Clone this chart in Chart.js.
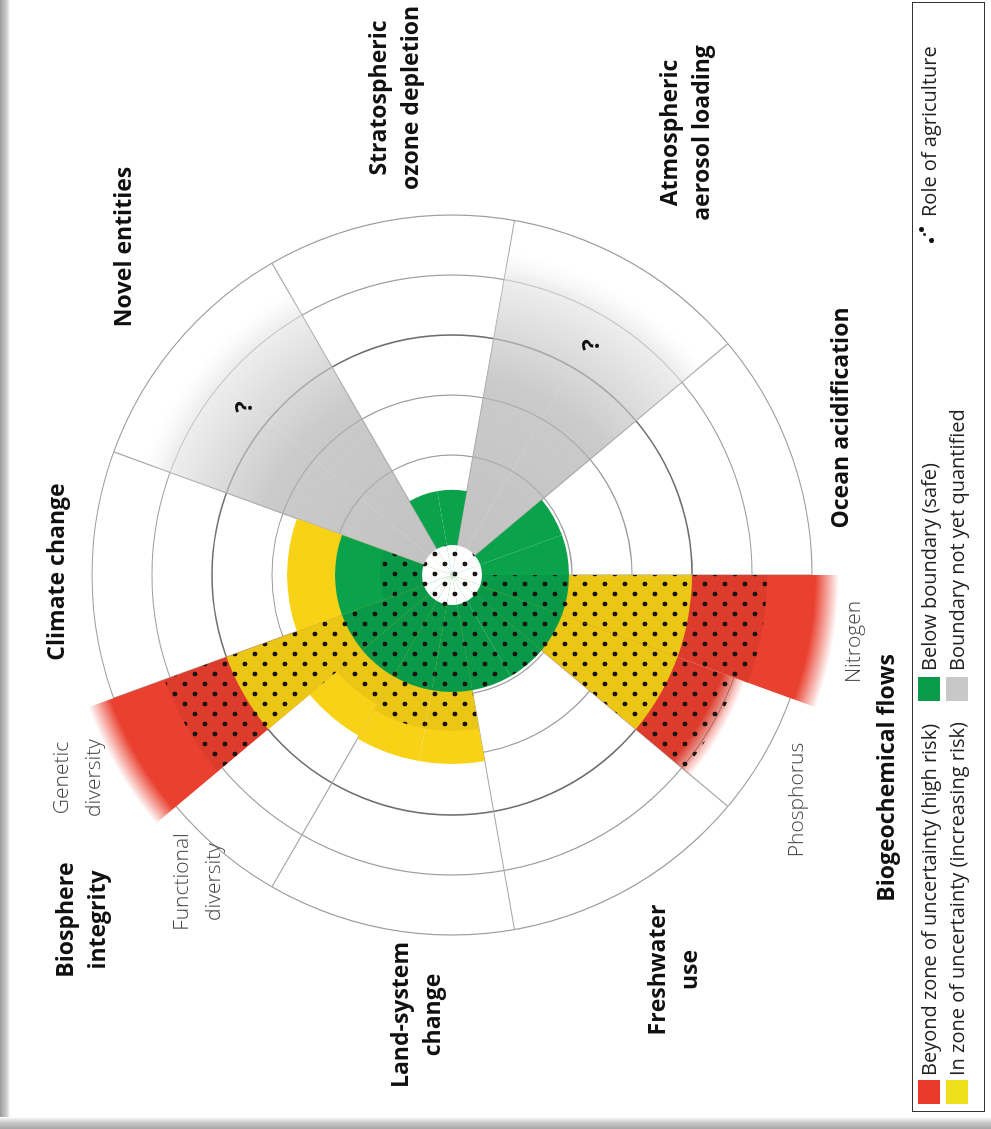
<!DOCTYPE html>
<html>
<head>
<meta charset="utf-8">
<script src="https://cdn.jsdelivr.net/npm/chart.js@4.4.1/dist/chart.umd.min.js"></script>
<style>
html,body{margin:0;padding:0;background:#fff;width:991px;height:1129px;overflow:hidden;}
#stage{position:absolute;left:0;top:0;width:1129px;height:991px;transform-origin:0 0;transform:translate(0px,1129px) rotate(-90deg);font-family:"Open Sans",sans-serif;}
#c{position:absolute;left:0;top:0;}
.lbl{position:absolute;transform:translate(-50%,-50%);text-align:center;white-space:nowrap;font-weight:700;font-size:23px;line-height:32px;color:#111;}
.sub{font-weight:300;font-size:21px;line-height:32px;color:#444;}
.q{font-size:24px;}
#legend{position:absolute;left:17px;top:912px;width:1110px;height:73px;border:1.5px solid #333;box-sizing:border-box;font-size:20px;color:#222;}
#legend .sw{position:absolute;width:24px;height:22px;}
#legend .tx{position:absolute;white-space:nowrap;line-height:26px;}
.dot{position:absolute;width:5px;height:5px;border-radius:50%;background:#111;}
.frameL{position:absolute;left:0;top:0;width:10px;height:1129px;background:linear-gradient(to right,#9c9c9c,#d0d0d0 70%,#fff);}
.frameB{position:absolute;left:0;top:1117px;width:991px;height:12px;background:linear-gradient(to bottom,#fff,#cfcfcf 40%,#a6a6a6);}
</style>
</head>
<body>
<div id="stage">
  <canvas id="c" width="1129" height="991"></canvas>
  <div id="labels"></div>
  <div id="legend">
    <div class="sw" style="left:7px;top:5px;background:#e8392b"></div>
    <div class="tx" style="left:35px;top:3px">Beyond zone of uncertainty (high risk)</div>
    <div class="sw" style="left:7px;top:33px;background:#efe01e"></div>
    <div class="tx" style="left:35px;top:31px">In zone of uncertainty (increasing risk)</div>
    <div class="sw" style="left:410px;top:5px;background:#0a9b4a"></div>
    <div class="tx" style="left:440px;top:3px">Below boundary (safe)</div>
    <div class="sw" style="left:410px;top:33px;background:#c8c8c8"></div>
    <div class="tx" style="left:440px;top:31px">Boundary not yet quantified</div>
    <div class="dot" style="left:868px;top:16px"></div>
    <div class="dot" style="left:875px;top:10px;width:3px;height:3px"></div>
    <div class="dot" style="left:879px;top:6px"></div>
    <div class="tx" style="left:894px;top:3px">Role of agriculture</div>
  </div>
</div>
<div class="frameL"></div>
<div class="frameB"></div>
<script>
// ---------- data (radius in ring units; one ring = 1) ----------
const categories = ['Climate change','Novel entities','Stratospheric ozone depletion','Atmospheric aerosol loading','Ocean acidification','Nitrogen','Phosphorus','Freshwater use','Land-system change','Functional diversity','Genetic diversity'];
const slots = [2,2,2,2,2,1,1,2,2,1,1];           // width of each wedge in 20° slots
const safeZone = [1.95,0,1.42,0,1.95,1.95,1.95,1.95,1.95,1.95,1.95];
const uncertaintyZone = [2.75,0,0,0,0,4.0,4.0,0,3.15,3.1,4.0];
const highRisk = [0,0,0,0,0,6.45,5.2,0,0,0,6.45];
const notQuantified = [0,5.5,0,5.5,0,0,0,0,0,0,0];
const agriculture = [1.2,0,0,0,0,5.25,5.05,1.95,2.6,2.5,5.1];
const coreRadius = 0.5;
const ringTicks = [0,1,2,3,4,5,6];

// ---------- build slot arrays ----------
function expand(arr){const out=[];arr.forEach((v,i)=>{for(let k=0;k<slots[i];k++)out.push(v);});return out;}
const slotLabels = expand(categories);

const GREEN='#0ba24c', YELLOW='#f8d217', RED='rgb(233,64,47)';
const canvas=document.getElementById('c');
const cctx=canvas.getContext('2d');
function dotTile(bg,tint){
  const t=document.createElement('canvas');t.width=20;t.height=20;
  const g=t.getContext('2d');
  if(bg){g.fillStyle=bg;g.fillRect(0,0,20,20);}
  if(tint){g.fillStyle=tint;g.fillRect(0,0,20,20);}
  g.fillStyle='#1a1310';
  [[5,5],[15,15]].forEach(([x,y])=>{g.beginPath();g.arc(x,y,2.4,0,Math.PI*2);g.fill();});
  return cctx.createPattern(t,'repeat');
}
const corePattern=dotTile('#ffffff',null);
const agriPattern=dotTile(null,'rgba(0,0,0,0.05)');

function radial(ctx,stops){
  const chart=ctx.chart, s=chart.scales.r;
  if(!s||!ctx.raw) return 'rgba(0,0,0,0)';
  const R=s.getDistanceFromCenterForValue(ctx.raw);
  const g=chart.ctx.createRadialGradient(s.xCenter,s.yCenter,0,s.xCenter,s.yCenter,R);
  stops(R).forEach(([o,c])=>g.addColorStop(Math.max(0,Math.min(1,o)),c));
  return g;
}
const redFill=ctx=>radial(ctx,R=>[[0,RED],[(R-24)/R,RED],[1,'rgba(233,64,47,0)']]);
const grayFill=ctx=>radial(ctx,R=>[[0,'rgba(172,172,172,0.75)'],[0.6,'rgba(180,180,180,0.7)'],[0.78,'rgba(205,205,205,0.65)'],[0.92,'rgba(228,228,228,0.6)'],[1,'rgba(245,245,245,0)']]);

const ds=(label,data,bg)=>({label,data,backgroundColor:bg,borderWidth:0,clip:false});

new Chart(canvas,{
  type:'polarArea',
  data:{labels:slotLabels,datasets:[
    ds('Centre',slotLabels.map(()=>coreRadius),corePattern),
    ds('Role of agriculture',expand(agriculture),agriPattern),
    ds('Below boundary (safe)',expand(safeZone),GREEN),
    ds('In zone of uncertainty (increasing risk)',expand(uncertaintyZone),YELLOW),
    ds('Beyond zone of uncertainty (high risk)',expand(highRisk),redFill),
    ds('Boundary not yet quantified',expand(notQuantified),grayFill)
  ]},
  options:{
    responsive:false,animation:false,
    layout:{padding:{left:194,top:92,right:215,bottom:179}},
    plugins:{legend:{display:false},tooltip:{enabled:false}},
    scales:{r:{
      min:ringTicks[0],max:ringTicks[ringTicks.length-1],startAngle:-20,
      ticks:{display:false,stepSize:1},
      pointLabels:{display:false},
      grid:{circular:true,
        color:c=>c.tick&&c.tick.value===1?'rgba(0,0,0,0)':(c.tick&&c.tick.value===4?'#6f6f6f':'#9d9d9d'),
        lineWidth:c=>c.tick&&c.tick.value===4?1.6:1.2},
      angleLines:{display:true,color:c=>c.index%2===0?'#a6a6a6':'rgba(0,0,0,0)',lineWidth:c=>c.index%2===0?1.2:0}
    }}
  }
});

// ---------- text labels (layout only) ----------
const labelLayout=[
  ['Stratospheric<br>ozone depletion',1031,393,''],
  ['Atmospheric<br>aerosol loading',996,684,''],
  ['Novel entities',882,122,''],
  ['Ocean acidification',711,839,''],
  ['Climate change',557,55,''],
  ['Biosphere<br>integrity',209,80,''],
  ['Genetic<br>diversity',351,76,'sub'],
  ['Functional<br>diversity',247,196,'sub'],
  ['Land-system<br>change',114,415,''],
  ['Freshwater<br>use',159,672,''],
  ['Phosphorus',329,795,'sub'],
  ['Nitrogen',487,852,'sub'],
  ['Biogeochemical flows',351,885,''],
  ['?',722,243,'q'],
  ['?',784,590,'q']
];
const L=document.getElementById('labels');
labelLayout.forEach(([t,x,y,cls])=>{const d=document.createElement('div');d.className='lbl '+cls;d.style.left=x+'px';d.style.top=y+'px';d.innerHTML=t;L.appendChild(d);});
</script>
</body>
</html>
